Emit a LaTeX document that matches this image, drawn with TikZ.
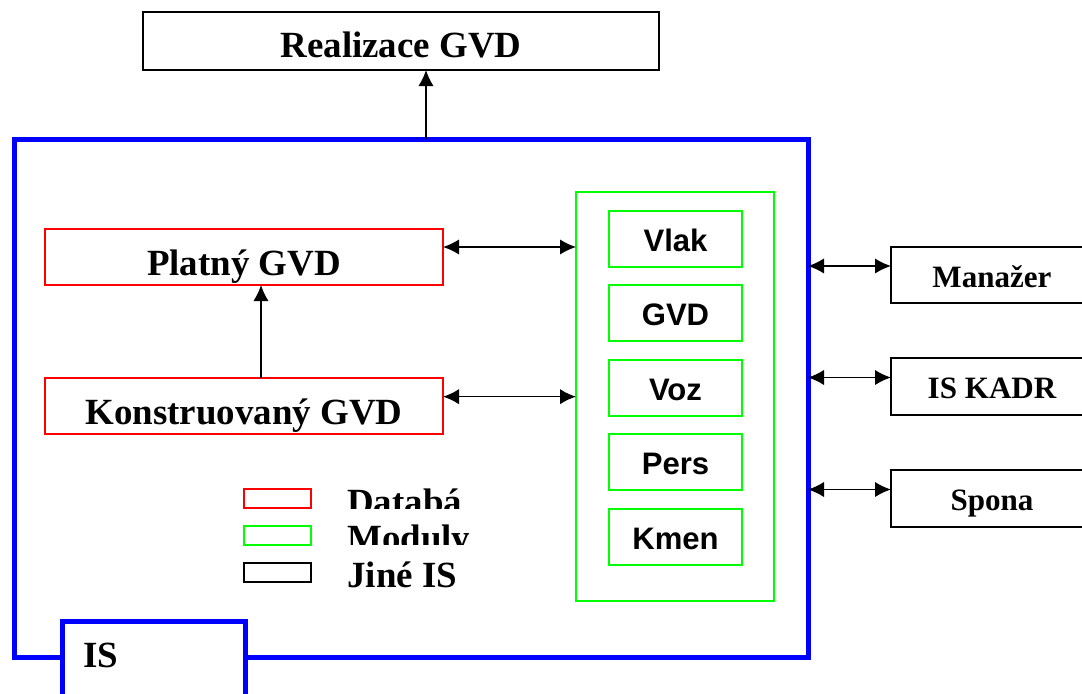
\documentclass[tikz,border=0pt]{standalone}
\usepackage{fontspec}
\setmainfont{Liberation Serif}
\newfontfamily\arialfont{Liberation Sans}
\usepackage{tikz}
\usetikzlibrary{arrows.meta,calc,fit,positioning}

\definecolor{isblue}{RGB}{0,0,255}
\definecolor{dbred}{RGB}{255,0,0}
\definecolor{modgreen}{RGB}{0,255,0}

\newcommand{\bigtxt}{\fontsize{27.7}{30}\selectfont\bfseries}
\newcommand{\midtxt}{\fontsize{23.3}{26}\selectfont\bfseries}
\newcommand{\modtxt}{\arialfont\fontsize{23.3}{26}\selectfont\bfseries}

\begin{document}
\begin{tikzpicture}[>={Latex[length=12pt,width=11.5pt]},x=0.75pt,y=-0.75pt, every fit/.style={inner sep=0pt, outer sep=0pt}]
			\tikzstyle{db}=[draw=dbred, line width=1.5pt]
			\tikzstyle{mod}=[draw=modgreen, line width=1.1pt]
			\tikzstyle{other}=[draw, line width=1.1pt]
			\tikzstyle{link}=[line width=1.2pt]

			\clip (0,0) rectangle (1082,693);

			% informacni system
			\node [draw=isblue, line width=3.75pt, fit={(14,139) (808,657)}] (isbox) {};
			\node [draw=isblue, line width=3.75pt, fill=white, fit={(62,621) (245,705)}] (islabel) {};
			\node [font=\bigtxt, anchor=base west, inner sep=0pt] (istext) at (83,667) {IS};

			\begin{scope}[font=\bigtxt, every label/.style={text height=19.4pt, text depth=5.5pt, yshift=-6.6pt}]
				\node [other, fit={(143,12) (659,70)}, label={[yshift=1.5pt]center:{Realizace GVD}}] (realizace) {};
				\node [db, fit={(45,229) (443,285)}, label=center:{Platný GVD}] (platny) {};
				\node [db, fit={(45,378) (443,434)}, label=center:{Konstruovaný GVD}] (konstr) {};
			\end{scope}

			% moduly
			\node [draw=modgreen, line width=2.2pt, fit={(576,192) (774,601)}] (moduly) {};
			\begin{scope}[font=\modtxt, every label/.style={text height=16.3pt, text depth=4.7pt, yshift=-3.2pt}]
				\node [mod, fit={(609,211) (742,267)}, label=center:{Vlak}] (vlak) {};
				\node [mod, fit={(609,285) (742,341)}, label=center:{GVD}] (gvd) {};
				\node [mod, fit={(609,360) (742,416)}, label=center:{Voz}] (voz) {};
				\node [mod, fit={(609,434) (742,490)}, label=center:{Pers}] (pers) {};
				\node [mod, fit={(609,509) (742,565)}, label=center:{Kmen}] (kmen) {};
			\end{scope}

			% jine IS
			\begin{scope}[font=\midtxt, every label/.style={text height=16.3pt, text depth=4.7pt, yshift=-3.5pt}]
				\node [other, fit={(891,247) (1093,303)}, label=center:{Manažer}] (manazer) {};
				\node [other, fit={(891,358) (1093,415)}, label=center:{IS KADR}] (iskadr) {};
				\node [other, fit={(891,470) (1093,527)}, label=center:{Spona}] (spona) {};
			\end{scope}

			% legenda
			\node [db, fit={(244,489) (311,508)}] (legdb) {};
			\node [mod, fit={(244,526) (311,545)}] (legmod) {};
			\node [other, fit={(244,563) (311,582)}] (legother) {};
			\begin{scope}
				\clip (330,470) rectangle (465,508);
				\node [font=\bigtxt, anchor=base west, inner sep=0pt] (legdbtext) at (347,514) {Databá};
			\end{scope}
			\begin{scope}
				\clip (330,515) rectangle (480,544);
				\node [font=\bigtxt, anchor=base west, inner sep=0pt] (legmodtext) at (347,550) {Moduly};
			\end{scope}
			\node [font=\bigtxt, anchor=base west, inner sep=0pt] (legothertext) at (347,587) {Jiné IS};

			% vazby
			\coordinate (realarrow) at (426,0);
			\draw [link,->] (isbox.north -| realarrow) -- (realizace.south -| realarrow);
			\draw [link,->] ([xshift=12.75pt]konstr.north) -- ([xshift=12.75pt]platny.south);
			\draw [link,<->] ([yshift=7.5pt]platny.east) -- ([yshift=7.5pt]platny.east -| moduly.west);
			\draw [link,<->] ([yshift=7pt]konstr.east) -- ([yshift=7pt]konstr.east -| moduly.west);
			\draw [link,<->] ([yshift=6.75pt]manazer.west -| isbox.east) -- ([yshift=6.75pt]manazer.west);
			\draw [link,<->] ([yshift=6.75pt]iskadr.west -| isbox.east) -- ([yshift=6.75pt]iskadr.west);
			\draw [link,<->] ([yshift=6.75pt]spona.west -| isbox.east) -- ([yshift=6.75pt]spona.west);
		\end{tikzpicture}
\end{document}
